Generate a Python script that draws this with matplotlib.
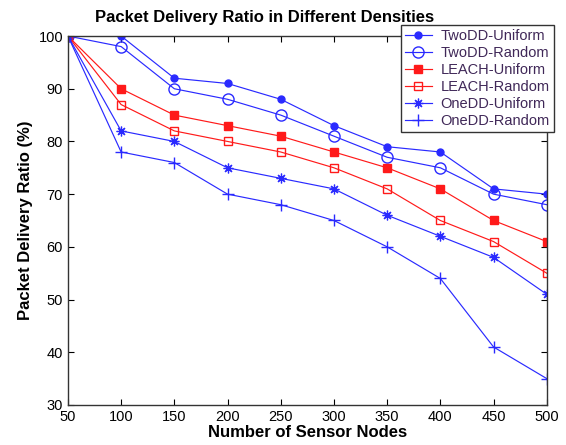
import matplotlib
matplotlib.use("Agg")
import matplotlib.pyplot as plt

plt.rcParams['font.family'] = ['Liberation Sans', 'DejaVu Sans']

nodes = [50, 100, 150, 200, 250, 300, 350, 400, 450, 500]
twodd_uniform = [100, 100, 92, 91, 88, 83, 79, 78, 71, 70]
twodd_random = [100, 98, 90, 88, 85, 81, 77, 75, 70, 68]
leach_uniform = [100, 90, 85, 83, 81, 78, 75, 71, 65, 61]
leach_random = [100, 87, 82, 80, 78, 75, 71, 65, 61, 55]
onedd_uniform = [100, 82, 80, 75, 73, 71, 66, 62, 58, 51]
onedd_random = [100, 78, 76, 70, 68, 65, 60, 54, 41, 35]

fig = plt.figure(figsize=(5.66, 4.45), dpi=100)
ax = fig.add_axes([0.12, 0.09, 0.846, 0.829])

blue = '#2a2aff'
red = '#ff1a1a'
asterisk = (8, 2, 0)
ax.plot(nodes, twodd_uniform, color=blue, marker='o', ms=5, lw=0.85, label='TwoDD-Uniform')
ax.plot(nodes, twodd_random, color=blue, marker='o', ms=8, mfc='none', lw=0.85, label='TwoDD-Random')
ax.plot(nodes, leach_uniform, color=red, marker='s', ms=6, lw=0.85, label='LEACH-Uniform')
ax.plot(nodes, leach_random, color=red, marker='s', ms=6, mfc='none', lw=0.85, label='LEACH-Random')
ax.plot(nodes, onedd_uniform, color=blue, marker=asterisk, ms=7, mew=0.9, lw=0.85, label='OneDD-Uniform')
ax.plot(nodes, onedd_random, color=blue, marker='+', ms=9, lw=0.85, label='OneDD-Random')

ax.set_xlim(50, 500)
ax.set_ylim(30, 100)
ax.set_xticks(nodes)
ax.set_yticks(range(30, 101, 10))
ax.tick_params(direction='in', top=True, right=True, labelsize=10.5, length=4)
for s in ax.spines.values():
    s.set_linewidth(1.0)
    s.set_color('#333333')

ax.set_title('Packet Delivery Ratio in Different Densities', fontsize=12, fontweight='bold',
             x=0.411, pad=10)
ax.set_xlabel('Number of Sensor Nodes', fontsize=12, fontweight='bold', labelpad=1)
ax.set_ylabel('Packet Delivery Ratio (%)', fontsize=12, fontweight='bold')

leg = ax.legend(loc='upper right', bbox_to_anchor=(1.015, 1.03), borderaxespad=0,
                fontsize=10.5, fancybox=False, edgecolor='#333333', framealpha=1,
                handlelength=1.8, handletextpad=0.6, borderpad=0.3, labelspacing=0.2)
leg.get_frame().set_linewidth(1.0)
for t in leg.get_texts():
    t.set_color('#402858')

fig.savefig('out.png', dpi=100)
